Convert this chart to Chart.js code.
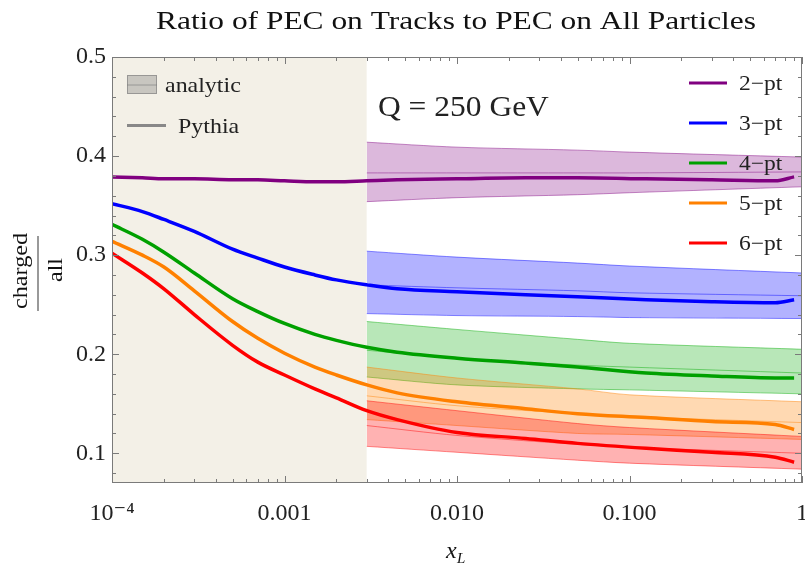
<!DOCTYPE html>
<html>
<head>
<meta charset="utf-8">
<script src="https://cdn.jsdelivr.net/npm/chart.js@4.4.1/dist/chart.umd.min.js"></script>
<style>
  html, body { margin: 0; padding: 0; background: #ffffff; }
  #wrap { width: 805px; height: 569px; position: relative; }
</style>
</head>
<body>
<div id="wrap"><canvas id="c" width="805" height="569"></canvas></div>
<script>
// ---------------- DATA ----------------
const seriesNames = ['2\u2212pt', '3\u2212pt', '4\u2212pt', '5\u2212pt', '6\u2212pt'];
const seriesColors = ['#800080', '#0000ff', '#00a000', '#ff8000', '#ff0000'];
const bandFills = ['rgba(128,0,128,0.28)', 'rgba(0,0,255,0.30)', 'rgba(0,170,0,0.28)', 'rgba(255,128,0,0.30)', 'rgba(255,0,0,0.30)'];
const bandEdges = ['rgba(128,0,128,0.45)', 'rgba(0,0,255,0.45)', 'rgba(0,170,0,0.45)', 'rgba(255,128,0,0.45)', 'rgba(255,0,0,0.45)'];

// Pythia curves
const xPythia = [0.0001, 0.00015, 0.0002, 0.0003, 0.0005, 0.0007, 0.001, 0.0015, 0.002, 0.003, 0.0045, 0.01, 0.025, 0.05, 0.125, 0.3, 0.7, 0.9];
const pythia2 = [0.379, 0.378, 0.377, 0.377, 0.376, 0.376, 0.375, 0.374, 0.374, 0.375, 0.376, 0.377, 0.378, 0.378, 0.377, 0.376, 0.375, 0.379];
const pythia3 = [0.352, 0.344, 0.336, 0.324, 0.306, 0.297, 0.288, 0.280, 0.275, 0.270, 0.266, 0.263, 0.260, 0.258, 0.255, 0.253, 0.252, 0.255];
const pythia4 = [0.331, 0.316, 0.303, 0.282, 0.256, 0.243, 0.231, 0.220, 0.214, 0.207, 0.202, 0.196, 0.191, 0.187, 0.181, 0.178, 0.176, 0.176];
const pythia5 = [0.314, 0.300, 0.288, 0.264, 0.233, 0.216, 0.201, 0.187, 0.179, 0.169, 0.161, 0.152, 0.145, 0.140, 0.136, 0.132, 0.129, 0.124];
const pythia6 = [0.302, 0.282, 0.266, 0.240, 0.209, 0.192, 0.179, 0.165, 0.156, 0.143, 0.134, 0.121, 0.115, 0.110, 0.105, 0.101, 0.096, 0.091];

// Analytic bands (low / central / high)
const xBand = [0.003, 0.01, 0.05, 0.1, 1];
const band2Lo = [0.354, 0.358, 0.361, 0.363, 0.369];
const band2Mid = [0.383, 0.383, 0.383, 0.383, 0.384];
const band2Hi = [0.414, 0.409, 0.406, 0.404, 0.399];
const band3Lo = [0.241, 0.239, 0.238, 0.237, 0.236];
const band3Mid = [0.270, 0.267, 0.264, 0.262, 0.259];
const band3Hi = [0.304, 0.298, 0.292, 0.289, 0.282];
const band4Lo = [0.177, 0.169, 0.165, 0.164, 0.160];
const band4Mid = [0.204, 0.196, 0.189, 0.187, 0.181];
const band4Hi = [0.233, 0.225, 0.215, 0.211, 0.205];
const band5Lo = [0.134, 0.128, 0.120, 0.119, 0.114];
const band5Mid = [0.158, 0.148, 0.140, 0.137, 0.131];
const band5Hi = [0.187, 0.176, 0.165, 0.159, 0.152];
const band6Lo = [0.107, 0.101, 0.093, 0.090, 0.084];
const band6Mid = [0.128, 0.118, 0.109, 0.106, 0.100];
const band6Hi = [0.153, 0.143, 0.130, 0.126, 0.117];

// Shaded (non-perturbative) region
const shadeX = [0.0001, 0.003];
const shadeY = [0.5, 0.5];

// Axes
const xMin = 0.0001, xMax = 1;
const yMin = 0.07, yMax = 0.5;
const xTickValues = [0.0001, 0.001, 0.01, 0.1, 1];
const xTickLabels = ['10\u207B\u2074', '0.001', '0.010', '0.100', '1'];
const yTickValues = [0.1, 0.2, 0.3, 0.4, 0.5];
const yTickLabels = ['0.1', '0.2', '0.3', '0.4', '0.5'];

const titleText = 'Ratio of PEC on Tracks to PEC on All Particles';
const energyText = 'Q = 250 GeV';
const legendAnalytic = 'analytic';
const legendPythia = 'Pythia';

// ---------------- BUILD ----------------
const pythiaSets = [pythia2, pythia3, pythia4, pythia5, pythia6];
const bandSets = [
  [band2Lo, band2Mid, band2Hi],
  [band3Lo, band3Mid, band3Hi],
  [band4Lo, band4Mid, band4Hi],
  [band5Lo, band5Mid, band5Hi],
  [band6Lo, band6Mid, band6Hi]
];
const pts = (xs, ys) => xs.map((x, i) => ({ x: x, y: ys[i] }));

const datasets = [];
datasets.push({
  label: 'shade', data: pts(shadeX, shadeY), fill: 'start',
  backgroundColor: '#f3f0e7', borderWidth: 0, pointRadius: 0, order: 100
});
bandSets.forEach((b, i) => {
  const base = datasets.length;
  datasets.push({ label: seriesNames[i] + ' lo', data: pts(xBand, b[0]), fill: false,
    borderColor: bandEdges[i], borderWidth: 1, pointRadius: 0, tension: 0.3, order: 50 - i });
  datasets.push({ label: seriesNames[i] + ' hi', data: pts(xBand, b[2]), fill: base,
    backgroundColor: bandFills[i], borderColor: bandEdges[i], borderWidth: 1, pointRadius: 0, tension: 0.3, order: 50 - i });
  datasets.push({ label: seriesNames[i] + ' mid', data: pts(xBand, b[1]), fill: false,
    borderColor: bandEdges[i], borderWidth: 1, pointRadius: 0, tension: 0.3, order: 40 - i });
});
pythiaSets.forEach((p, i) => {
  datasets.push({ label: seriesNames[i], data: pts(xPythia, p), fill: false,
    borderColor: seriesColors[i], borderWidth: 3.5, pointRadius: 0,
    cubicInterpolationMode: 'monotone', order: 10 - i });
});

const SERIF = '"Liberation Serif", "DejaVu Serif", serif';

// draws text stretched horizontally by factor sx (serif face is narrower than the original)
function wideText(ctx, text, x, y, sx, align) {
  const w = ctx.measureText(text).width * sx;
  let left = x;
  if (align === 'center') left = x - w / 2;
  else if (align === 'right') left = x - w;
  ctx.save();
  ctx.translate(left, y);
  ctx.scale(sx, 1);
  ctx.textAlign = 'left';
  ctx.fillText(text, 0, 0);
  ctx.restore();
}

const overlay = {
  id: 'overlay',
  afterDatasetsDraw(chart) {
    const ctx = chart.ctx;
    const xs = chart.scales.x, ys = chart.scales.y;
    const a = chart.chartArea;
    ctx.save();
    ctx.strokeStyle = '#7a7a7a';
    ctx.lineWidth = 1;
    ctx.strokeRect(a.left + 0.5, a.top + 0.5, a.right - a.left - 1, a.bottom - a.top - 1);
    ctx.beginPath();
    for (let k = 4; k <= 25; k++) {
      const v = k * 0.02;
      if (v < yMin - 1e-9 || v > yMax + 1e-9) continue;
      const major = Math.abs(v * 10 - Math.round(v * 10)) < 1e-6;
      const len = major ? 7 : 4;
      const py = Math.round(ys.getPixelForValue(v)) + 0.5;
      ctx.moveTo(a.left, py); ctx.lineTo(a.left + len, py);
      ctx.moveTo(a.right, py); ctx.lineTo(a.right - len, py);
    }
    for (let d = -4; d <= 0; d++) {
      for (let m = 1; m <= 9; m++) {
        const v = m * Math.pow(10, d);
        if (v > xMax * 1.0001) continue;
        const len = m === 1 ? 7 : 4;
        const px = Math.round(xs.getPixelForValue(v)) + 0.5;
        ctx.moveTo(px, a.bottom); ctx.lineTo(px, a.bottom - len);
        ctx.moveTo(px, a.top); ctx.lineTo(px, a.top + len);
      }
    }
    ctx.stroke();

    // left legend
    ctx.fillStyle = 'rgba(120,120,120,0.35)';
    ctx.fillRect(127, 75, 30, 19);
    ctx.strokeStyle = 'rgba(120,120,120,0.6)';
    ctx.lineWidth = 1;
    ctx.strokeRect(127.5, 75.5, 29, 18);
    ctx.beginPath(); ctx.moveTo(127, 85); ctx.lineTo(157, 85); ctx.stroke();
    ctx.strokeStyle = '#888888';
    ctx.lineWidth = 3;
    ctx.beginPath(); ctx.moveTo(127, 125.5); ctx.lineTo(166, 125.5); ctx.stroke();
    ctx.fillStyle = '#222';
    ctx.font = '21px ' + SERIF;
    ctx.textBaseline = 'middle';
    wideText(ctx, legendAnalytic, 165, 86, 1.14, 'left');
    wideText(ctx, legendPythia, 178, 127, 1.14, 'left');

    // right legend
    seriesNames.forEach((n, i) => {
      const yy = 83 + i * 40;
      ctx.strokeStyle = seriesColors[i];
      ctx.lineWidth = 3;
      ctx.beginPath(); ctx.moveTo(689, yy); ctx.lineTo(727, yy); ctx.stroke();
      ctx.fillStyle = '#222';
      wideText(ctx, n, 739, yy + 1, 1.12, 'left');
    });

    ctx.font = '30px ' + SERIF;
    wideText(ctx, energyText, 378, 108, 1.05, 'left');
    ctx.restore();
  },
  afterDraw(chart) {
    const ctx = chart.ctx;
    ctx.save();
    ctx.fillStyle = '#111';
    ctx.font = '25px ' + SERIF;
    ctx.textBaseline = 'alphabetic';
    const tw = ctx.measureText(titleText).width;
    wideText(ctx, titleText, 456, 29, 600 / tw, 'center');
    // y-axis fraction title
    ctx.save();
    ctx.translate(21, 271);
    ctx.rotate(-Math.PI / 2);
    ctx.font = '22px ' + SERIF;
    ctx.textBaseline = 'middle';
    wideText(ctx, 'charged', 0, 0, 1.1, 'center');
    ctx.restore();
    ctx.save();
    ctx.translate(56, 270);
    ctx.rotate(-Math.PI / 2);
    ctx.font = '22px ' + SERIF;
    ctx.textBaseline = 'middle';
    wideText(ctx, 'all', 0, 0, 1.1, 'center');
    ctx.restore();
    ctx.strokeStyle = '#555';
    ctx.lineWidth = 1.2;
    ctx.beginPath(); ctx.moveTo(38, 236); ctx.lineTo(38, 311); ctx.stroke();
    ctx.textAlign = 'left';
    ctx.font = 'italic 24px ' + SERIF;
    ctx.fillText('x', 446, 558);
    ctx.font = 'italic 15px ' + SERIF;
    ctx.fillText('L', 457, 563);
    ctx.restore();
  }
};

new Chart(document.getElementById('c'), {
  type: 'line',
  data: { datasets: datasets },
  options: {
    responsive: false,
    animation: false,
    devicePixelRatio: 1,
    layout: { padding: { left: 0, top: 57, right: 3, bottom: 0 } },
    plugins: { legend: { display: false }, tooltip: { enabled: false }, title: { display: false } },
    scales: {
      x: {
        type: 'logarithmic', min: xMin, max: xMax,
        grid: { display: false, drawTicks: false },
        border: { display: false },
        afterBuildTicks: s => { s.ticks = xTickValues.map(v => ({ value: v, major: true })); },
        afterFit: s => { s.height = 86; s.paddingLeft = 0; s.paddingRight = 0; },
        ticks: {
          autoSkip: false, maxRotation: 0, padding: 16, color: '#222',
          font: { family: SERIF, size: 24 },
          callback: (v) => { const i = xTickValues.findIndex(t => Math.abs(t - v) / t < 1e-6); return i >= 0 ? xTickLabels[i] : ''; }
        }
      },
      y: {
        type: 'linear', min: yMin, max: yMax,
        grid: { display: false, drawTicks: false },
        border: { display: false },
        afterBuildTicks: s => { s.ticks = yTickValues.map(v => ({ value: v })); },
        afterFit: s => { s.width = 112; s.paddingTop = 0; s.paddingBottom = 0; },
        ticks: {
          padding: 6, color: '#222',
          font: { family: SERIF, size: 24 },
          callback: (v) => { const i = yTickValues.findIndex(t => Math.abs(t - v) < 1e-6); return i >= 0 ? yTickLabels[i] : ''; }
        }
      }
    }
  },
  plugins: [overlay]
});
</script>
</body>
</html>
